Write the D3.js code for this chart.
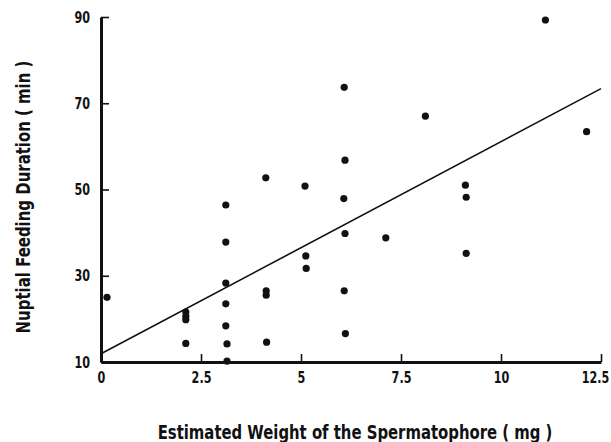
<!DOCTYPE html>
<html lang="en">
<head>
<meta charset="UTF-8">
<title>Nuptial feeding duration vs spermatophore weight</title>
<script src="https://cdn.jsdelivr.net/npm/d3@7/dist/d3.min.js"></script>
<style>
  body { margin: 0; background: #fff; }
  svg text { font-family: "DejaVu Sans", sans-serif; font-weight: bold; fill: #111; }
  .axis path.domain { stroke: #111; stroke-width: 3px; }
  .axis .tick line { stroke: #111; stroke-width: 1.6px; }
  .axis .tick text { font-size: 16px; }
  .axis-label { font-size: 19px; }
</style>
</head>
<body>
<div id="chart"></div>
<script>
// estimated weight of the spermatophore (mg)
var weight = [0.15, 2.12, 2.12, 2.12, 2.12, 3.12, 3.12, 3.12, 3.12, 3.12, 3.15, 3.15,
              4.12, 4.13, 4.13, 4.14, 5.1, 5.12, 5.13, 6.08, 6.1, 6.07, 6.1, 6.08, 6.11,
              7.12, 8.11, 9.11, 9.13, 9.13, 11.11, 12.14];
// nuptial feeding duration (min)
var duration = [25.0, 21.6, 20.6, 19.8, 14.3, 46.4, 37.8, 28.3, 23.5, 18.4, 14.2, 10.2,
                52.7, 26.5, 25.5, 14.6, 50.8, 34.6, 31.7, 73.7, 56.8, 47.9, 39.8, 26.5, 16.6,
                38.8, 67.0, 51.0, 48.2, 35.2, 89.3, 63.4];

var xTicks = [0, 2.5, 5, 7.5, 10, 12.5];
var yTicks = [10, 30, 50, 70, 90];

// fitted regression line
var fitIntercept = 11.9;
var fitSlope = 4.92;

var width = 611, height = 442;
var margin = {top: 17, right: 10, bottom: 80, left: 101};
var narrow = 0.7; // the original lettering is a narrow bold face

var svg = d3.select('#chart').append('svg')
    .attr('width', width).attr('height', height);

var x = d3.scaleLinear().domain([0, 12.5]).range([margin.left, 601]);
var y = d3.scaleLinear().domain([10, 90]).range([362, margin.top]);

// fit line
svg.append('line')
    .attr('x1', x(0)).attr('y1', y(fitIntercept))
    .attr('x2', x(12.5)).attr('y2', y(fitIntercept + fitSlope * 12.5))
    .attr('stroke', '#111').attr('stroke-width', 1.6);

// points
svg.append('g').selectAll('circle')
    .data(weight.map((w, i) => [w, duration[i]]))
    .join('circle')
    .attr('cx', d => x(d[0]))
    .attr('cy', d => y(d[1]))
    .attr('r', 3.6)
    .attr('fill', '#111');

var xAxis = d3.axisBottom(x)
    .tickValues(xTicks).tickSizeInner(-8).tickSizeOuter(0).tickPadding(10)
    .tickFormat(d => String(d));

var gx = svg.append('g').attr('class', 'axis x')
    .attr('transform', `translate(0,${y(10)})`)
    .call(xAxis);
gx.selectAll('.tick text')
    .attr('x', d => d === 12.5 ? -6 / narrow : 0)
    .attr('transform', `scale(${narrow},1)`);

var yAxis = d3.axisLeft(y)
    .tickValues(yTicks).tickSizeInner(-8).tickSizeOuter(0).tickPadding(11)
    .tickFormat(d => String(d));

var gy = svg.append('g').attr('class', 'axis y')
    .attr('transform', `translate(${x(0)},0)`)
    .call(yAxis);
gy.selectAll('.tick text')
    .attr('x', -11 / narrow)
    .attr('transform', `scale(${narrow},1)`);

var xl = svg.append('text')
    .attr('class', 'axis-label')
    .attr('text-anchor', 'middle')
    .text('Estimated Weight of the Spermatophore ( mg )');
xl.attr('transform', `translate(355,439) scale(${395 / xl.node().getComputedTextLength()},1)`);

var yl = svg.append('text')
    .attr('class', 'axis-label')
    .attr('text-anchor', 'middle')
    .text('Nuptial Feeding Duration ( min )');
yl.attr('transform', `translate(30,197) rotate(-90) scale(${273 / yl.node().getComputedTextLength()},1)`);
</script>
</body>
</html>
